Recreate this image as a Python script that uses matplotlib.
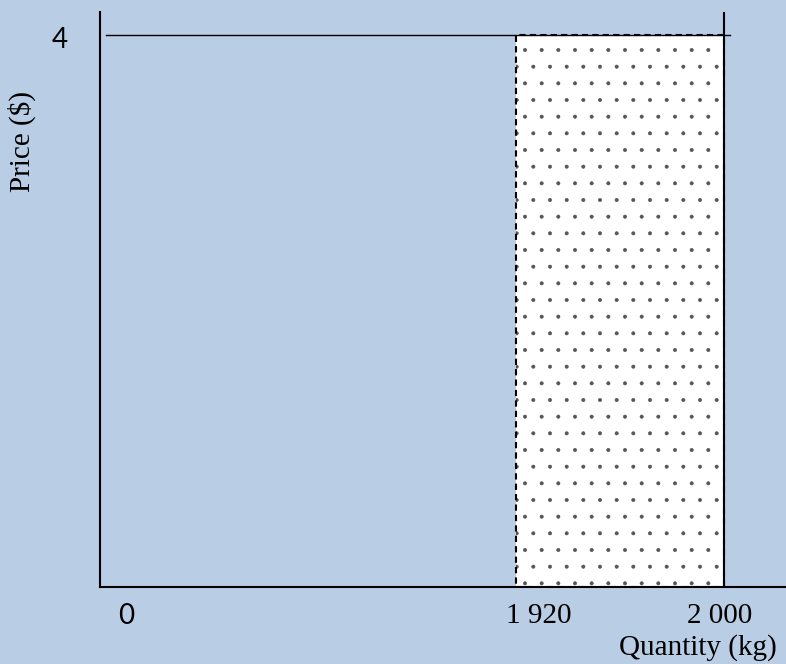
import numpy as np
import matplotlib
matplotlib.use("Agg")
from matplotlib import pyplot as plt
from matplotlib.patches import Rectangle

# Chart values
price = 4
q_low = 1920
q_high = 2000
x_ticks = [0, 1920, 2000]
x_tick_labels = ["0", "1 920", "2 000"]
y_tick_labels = ["4"]

bg = "#B9CDE5"
plt.rcParams["hatch.linewidth"] = 0.4

# The quantity axis is schematic: 0..1920 is squeezed, 1920..2000 is stretched
def forward(q):
    q = np.asarray(q, dtype=float)
    return np.where(q <= q_low, q / 960.0, 2.0 + (q - q_low) / 80.0)

def inverse(u):
    u = np.asarray(u, dtype=float)
    return np.where(u <= 2.0, u * 960.0, q_low + (u - 2.0) * 80.0)

fig = plt.figure(figsize=(7.86, 6.64), dpi=100, facecolor=bg)
ax = fig.add_axes([100 / 786, 77 / 664, 686 / 786, 575 / 664])
ax.set_facecolor(bg)
ax.set_xscale("function", functions=(forward, inverse))
ax.set_xlim(0, 2024)
ax.set_ylim(0, 4.167)

# Axes: only left and bottom lines, no ticks
for side in ["top", "right"]:
    ax.spines[side].set_visible(False)
for side in ["left", "bottom"]:
    ax.spines[side].set_linewidth(1.5)
    ax.spines[side].set_color("black")
ax.set_xticks([])
ax.set_yticks([])

# Shaded area between 1 920 and 2 000: dotted fill, then dashed outline
fill = Rectangle((q_low, 0), q_high - q_low, price, facecolor="white",
                 edgecolor="#555555", hatch=".", linewidth=0, zorder=2)
ax.add_patch(fill)
outline = Rectangle((q_low, 0), q_high - q_low, price, facecolor="none",
                    edgecolor="black", linewidth=1.5,
                    linestyle=(0, (3, 2)), zorder=3)
ax.add_patch(outline)

# Price line and the 2 000 supply line
ax.axhline(price, xmin=6 / 686, xmax=630 / 686, color="black", lw=1.0, zorder=3)
ax.axvline(q_high, color="black", lw=1.5, zorder=4)

# Tick labels
sans = "Lato"
serif = "Liberation Serif"
ax.annotate(y_tick_labels[0], xy=(0, price), xytext=(-29, -3.6),
            textcoords="offset points", ha="center", va="center",
            fontsize=20, family=sans, annotation_clip=False)

x_offsets = [18.7, 16.5, -3]
x_fonts = [sans, serif, serif]
for q, lab, dx, fam in zip(x_ticks, x_tick_labels, x_offsets, x_fonts):
    ax.annotate(lab, xy=(q, 0), xytext=(dx, -21), textcoords="offset points",
                ha="center", va="center", fontsize=21 if fam == serif else 20,
                family=fam, annotation_clip=False)

# Axis titles
fig.text(0.988, 9 / 664, "Quantity (kg)", ha="right", va="baseline",
         fontsize=21, family=serif)
fig.text(22 / 786, (664 - 142) / 664, "Price ($)", rotation=90,
         ha="center", va="center", fontsize=21, family=serif)

fig.savefig("out.png", dpi=100, facecolor=bg)
